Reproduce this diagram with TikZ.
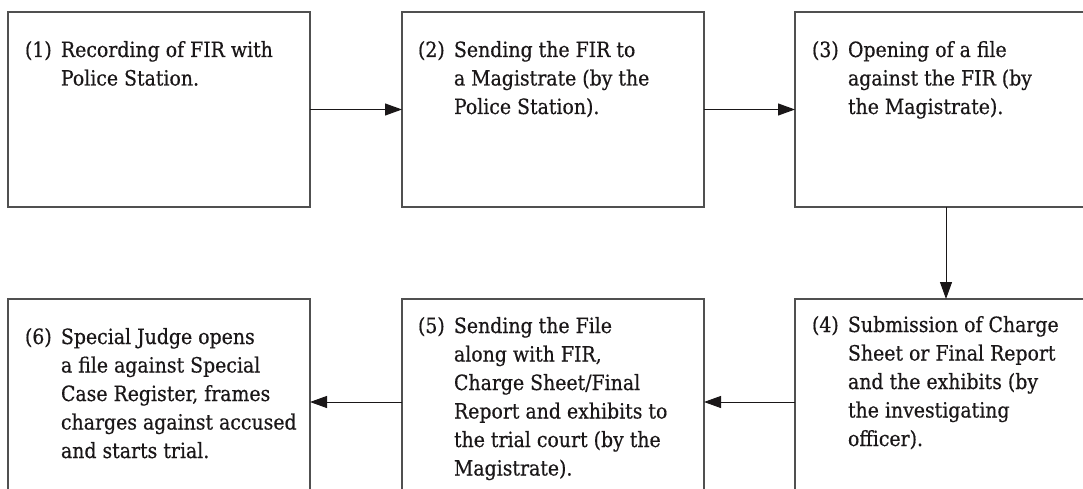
\documentclass[tikz,border=0pt]{standalone}
\usepackage{fontspec}
\setmainfont[FakeBold=0.5]{DejaVu Serif Condensed}
\usetikzlibrary{arrows.meta}
\definecolor{boxgray}{HTML}{505050}
\definecolor{ink}{HTML}{1A1718}
\newlength\hangw
\setlength\hangw{36pt}
\newcommand\steptxt[2]{\begin{minipage}[t]{300pt}\fontsize{21}{28.5}\selectfont\hangindent=\hangw\hangafter=1\noindent\makebox[\hangw][l]{#1}#2\end{minipage}}
\tikzset{
  stepbox/.style={draw=boxgray, line width=1.4pt, minimum width=302pt, inner sep=0pt, outer sep=0pt, anchor=north west},
  toprow/.style={minimum height=195pt},
  botrow/.style={minimum height=206pt},
  steplabel/.style={anchor=base west, inner sep=0pt, outer sep=0pt, text=ink},
  arr/.style={draw=ink, line width=1pt, -{Triangle[length=17pt,width=12pt]}}
}
\begin{document}
\begin{tikzpicture}[x=1pt,y=1pt]
\useasboundingbox (0,0) rectangle (1083,488);
\clip (0,0) rectangle (1083,488);
\node[stepbox,toprow] (b1) at (8,476) {};
\node[stepbox,toprow] (b2) at (402,476) {};
\node[stepbox,toprow] (b3) at (795,476) {};
\node[stepbox,botrow] (b6) at (8,189) {};
\node[stepbox,botrow] (b5) at (402,189) {};
\node[stepbox,botrow] (b4) at (795,189) {};
\node[steplabel] (t1) at (25,431) {\steptxt{(1)}{Recording of FIR with\newline Police Station.}};
\node[steplabel] (t2) at (418,431) {\steptxt{(2)}{Sending the FIR to\newline a Magistrate (by the\newline Police Station).}};
\node[steplabel] (t3) at (812,431) {\steptxt{(3)}{Opening of a file\newline against the FIR (by\newline the Magistrate).}};
\node[steplabel] (t4) at (812,156) {\steptxt{(4)}{Submission of Charge\newline Sheet or Final Report\newline and the exhibits (by\newline the investigating\newline officer).}};
\node[steplabel] (t5) at (418,155) {\steptxt{(5)}{Sending the File\newline along with FIR,\newline Charge Sheet/Final\newline Report and exhibits to\newline the trial court (by the\newline Magistrate).}};
\node[steplabel] (t6) at (25,144) {\steptxt{(6)}{Special Judge opens\newline a file against Special\newline Case Register, frames\newline charges against accused\newline and starts trial.}};
\draw[arr] (b1.east) -- (b2.west);
\draw[arr] (b2.east) -- (b3.west);
\draw[arr] (b3.south) -- (b4.north);
\draw[arr] (b4.west) -- (b5.east);
\draw[arr] (b5.west) -- (b6.east);
\end{tikzpicture}
\end{document}
